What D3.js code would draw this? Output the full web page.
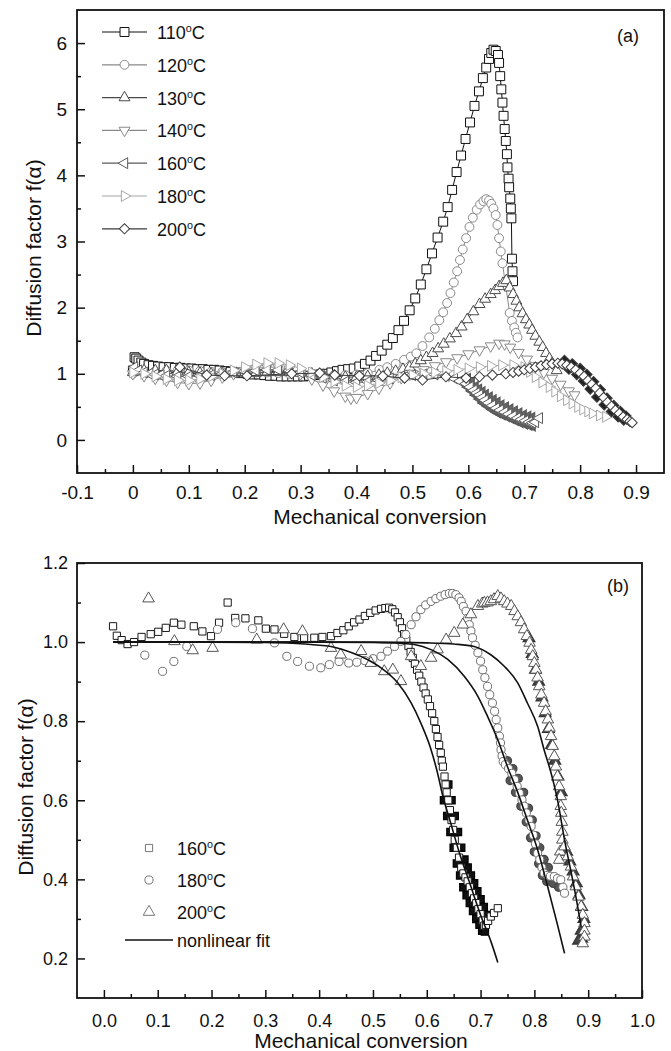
<!DOCTYPE html>
<html>
<head>
<meta charset="utf-8">
<script src="https://cdn.jsdelivr.net/npm/d3@7/dist/d3.min.js"></script>
<style>
  body { margin: 0; background: #fff; }
  text { font-family: "Liberation Sans", Arial, Helvetica, sans-serif; fill: #111; }
</style>
</head>
<body>
<svg id="chart" width="671" height="1051"></svg>
<script>
// ---------- panel (a): [mechanical conversion, diffusion factor] ----------
var tempsA = ["110", "120", "130", "140", "160", "180", "200"];

var a110 = [[0.000,1.05],[0.003,1.25],[0.006,1.23],[0.010,1.20],[0.015,1.17],[0.020,1.15],[0.028,1.13],[0.036,1.12],
  [0.045,1.11],[0.055,1.10],[0.065,1.10],[0.075,1.09],[0.085,1.09],[0.095,1.08],[0.105,1.08],[0.115,1.07],[0.125,1.07],
  [0.135,1.06],[0.145,1.06],[0.155,1.05],[0.165,1.04],[0.175,1.03],[0.185,1.02],[0.195,1.01],[0.205,1.00],[0.215,0.99],
  [0.225,0.99],[0.235,0.98],[0.245,0.97],[0.255,0.97],[0.265,0.96],[0.275,0.96],[0.285,0.96],[0.295,0.96],[0.305,0.96],
  [0.315,0.97],[0.325,0.98],[0.335,0.99],[0.345,1.00],[0.355,1.02],[0.365,1.04],[0.375,1.06],[0.385,1.07],[0.395,1.08],
  [0.405,1.11],[0.415,1.15],[0.425,1.20],[0.435,1.27],[0.445,1.35],[0.455,1.44],[0.465,1.54],[0.475,1.66],[0.485,1.80],
  [0.495,1.96],[0.505,2.14],[0.515,2.35],[0.525,2.58],[0.535,2.82],[0.545,3.06],[0.555,3.30],[0.563,3.52],[0.571,3.78],
  [0.579,4.05],[0.587,4.30],[0.595,4.55],[0.603,4.80],[0.611,5.05],[0.619,5.27],[0.626,5.47],[0.632,5.63],[0.637,5.76],
  [0.641,5.85],[0.645,5.90],[0.649,5.88],[0.653,5.82],[0.655,5.70],[0.657,5.50],[0.659,5.30],[0.661,5.10],[0.663,4.90],
  [0.665,4.70],[0.667,4.52],[0.669,4.32],[0.670,4.12],[0.672,3.95],[0.673,3.82],[0.675,3.65],[0.676,3.50],[0.677,3.35],
  [0.678,2.74],[0.679,2.55],[0.680,2.40]];

var a120 = [[0.000,1.00],[0.020,1.02],[0.040,1.04],[0.060,1.05],[0.080,1.05],[0.100,1.05],[0.120,1.04],[0.140,1.03],
  [0.160,1.03],[0.180,1.02],[0.200,1.02],[0.220,1.02],[0.240,1.02],[0.260,1.01],[0.280,1.00],[0.300,1.00],[0.320,0.99],
  [0.340,0.98],[0.360,0.98],[0.380,0.98],[0.400,0.99],[0.420,1.01],[0.441,1.06],[0.455,1.10],[0.470,1.15],[0.485,1.21],
  [0.497,1.26],[0.507,1.31],[0.518,1.42],[0.530,1.55],[0.540,1.68],[0.548,1.81],[0.555,1.93],[0.562,2.07],[0.568,2.22],
  [0.574,2.38],[0.580,2.55],[0.585,2.72],[0.590,2.88],[0.596,3.05],[0.602,3.22],[0.608,3.36],[0.615,3.48],[0.621,3.56],
  [0.627,3.61],[0.632,3.64],[0.637,3.62],[0.641,3.57],[0.645,3.50],[0.649,3.40],[0.652,3.25],[0.655,3.05],[0.658,2.85],
  [0.661,2.67],[0.674,1.92],[0.678,1.80],[0.682,1.70],[0.685,1.62],[0.688,1.55]];

var a130 = [[0.000,1.02],[0.020,1.05],[0.040,1.05],[0.060,1.05],[0.080,1.03],[0.100,1.02],[0.120,1.01],[0.140,1.00],
  [0.160,1.00],[0.180,1.00],[0.200,1.00],[0.220,1.01],[0.240,1.02],[0.260,1.02],[0.280,1.02],[0.300,1.01],[0.320,1.00],
  [0.340,0.98],[0.360,0.97],[0.380,0.95],[0.400,0.95],[0.420,0.96],[0.440,0.98],[0.455,1.01],[0.470,1.04],[0.483,1.07],
  [0.495,1.10],[0.505,1.15],[0.515,1.20],[0.525,1.25],[0.536,1.31],[0.546,1.38],[0.556,1.45],[0.567,1.53],[0.578,1.61],
  [0.588,1.71],[0.598,1.82],[0.609,1.94],[0.620,2.05],[0.630,2.13],[0.640,2.20],[0.648,2.26],[0.655,2.32],[0.662,2.37],
  [0.668,2.41],[0.674,2.30],[0.680,2.20],[0.686,2.10],[0.691,2.00],[0.697,1.91],[0.703,1.82],[0.709,1.74],[0.714,1.66],
  [0.720,1.57],[0.727,1.48],[0.733,1.40],[0.739,1.31],[0.745,1.23],[0.750,1.16],[0.758,1.05]];

var a140 = [[0.000,1.00],[0.020,0.97],[0.040,0.93],[0.060,0.90],[0.080,0.87],[0.100,0.85],[0.120,0.86],[0.140,0.90],
  [0.160,0.95],[0.180,1.00],[0.200,1.05],[0.220,1.08],[0.240,1.10],[0.260,1.10],[0.280,1.07],[0.300,1.00],[0.320,0.92],
  [0.340,0.83],[0.360,0.74],[0.380,0.66],[0.390,0.63],[0.400,0.64],[0.420,0.70],[0.440,0.78],[0.460,0.86],[0.480,0.94],
  [0.500,1.00],[0.520,1.06],[0.540,1.12],[0.560,1.18],[0.580,1.24],[0.600,1.30],[0.620,1.36],[0.640,1.42],[0.655,1.46],
  [0.665,1.45],[0.675,1.40],[0.690,1.32],[0.705,1.22],[0.720,1.12],[0.735,1.02],[0.750,0.93],[0.765,0.84],[0.780,0.74],
  [0.790,0.68]];

var a160 = [[0.003,1.10],[0.010,1.05],[0.020,1.02],[0.030,1.00],[0.040,0.99],[0.050,0.98],[0.060,0.97],[0.080,0.96],
  [0.100,0.96],[0.120,0.97],[0.140,0.98],[0.160,1.00],[0.180,1.02],[0.200,1.04],[0.220,1.05],[0.240,1.06],[0.260,1.06],
  [0.280,1.05],[0.300,1.02],[0.320,0.98],[0.340,0.94],[0.360,0.90],[0.380,0.88],[0.400,0.87],[0.420,0.88],[0.440,0.90],
  [0.460,0.93],[0.480,0.96],[0.500,0.98],[0.520,0.99],[0.540,0.99],[0.560,0.97],[0.575,0.93],[0.585,0.89],[0.596,0.85],
  [0.603,0.80],[0.610,0.75],[0.615,0.71],[0.620,0.68],[0.625,0.64],[0.630,0.60],[0.636,0.56],[0.643,0.52],[0.650,0.48],
  [0.657,0.45],[0.665,0.42],[0.672,0.39],[0.680,0.36],[0.688,0.33],[0.695,0.31],[0.702,0.29],[0.709,0.27],[0.715,0.26],
  [0.720,0.27],[0.727,0.33]];
// outer edges of the dense 160 band
var a160band = [[0.598,0.92],[0.605,0.86],[0.612,0.80],[0.618,0.76],[0.624,0.72],[0.630,0.68],[0.637,0.64],[0.644,0.60],
  [0.651,0.56],[0.658,0.52],[0.666,0.49],[0.674,0.46],[0.682,0.43],[0.690,0.40],[0.698,0.37],[0.706,0.35],[0.713,0.33],
  [0.600,0.80],[0.607,0.74],[0.614,0.68],[0.621,0.62],[0.628,0.56],[0.636,0.51],[0.644,0.46],[0.652,0.42],[0.660,0.39],
  [0.668,0.36],[0.676,0.33],[0.684,0.30],[0.692,0.27],[0.700,0.25],[0.708,0.23],[0.714,0.22]];

var a180 = [[0.000,1.02],[0.020,1.00],[0.040,0.96],[0.060,0.92],[0.080,0.90],[0.100,0.90],[0.120,0.92],[0.140,0.96],
  [0.160,1.00],[0.180,1.05],[0.200,1.10],[0.220,1.14],[0.240,1.16],[0.260,1.16],[0.280,1.13],[0.300,1.08],[0.320,1.02],
  [0.340,0.95],[0.360,0.88],[0.380,0.82],[0.400,0.80],[0.420,0.82],[0.440,0.86],[0.460,0.90],[0.480,0.95],[0.500,0.98],
  [0.520,1.00],[0.540,1.02],[0.560,1.04],[0.580,1.06],[0.600,1.08],[0.620,1.10],[0.640,1.12],[0.660,1.13],[0.680,1.13],
  [0.700,1.10],[0.710,1.03],[0.720,0.95],[0.732,0.87],[0.745,0.80],[0.755,0.73],[0.765,0.66],[0.776,0.60],[0.786,0.55],
  [0.796,0.50],[0.805,0.46],[0.814,0.43],[0.822,0.40],[0.835,0.37],[0.846,0.35]];

var a200 = [[0.084,1.10],[0.132,0.98],[0.164,0.97],[0.204,0.97],[0.284,1.00],[0.334,1.01],[0.361,0.98],[0.405,0.97],
  [0.447,0.965],[0.486,0.935],[0.518,0.905],[0.560,0.955],[0.596,0.935],[0.620,0.955],[0.643,0.98],[0.667,1.00],
  [0.680,1.02],[0.690,1.04],[0.700,1.06],[0.710,1.08],[0.720,1.10],[0.730,1.12],[0.740,1.14],[0.750,1.15],[0.760,1.16],
  [0.768,1.15],[0.776,1.13],[0.784,1.10],[0.792,1.06],[0.800,1.01],[0.807,0.96],[0.814,0.90],[0.821,0.84],[0.828,0.78],
  [0.835,0.71],[0.842,0.64],[0.849,0.57],[0.856,0.51],[0.863,0.45],[0.870,0.40],[0.877,0.35],[0.884,0.31],[0.889,0.28],
  [0.893,0.26]];
// outer edges of the dense black 200 band
var a200band = [[0.772,1.20],[0.786,1.15],[0.800,1.08],[0.812,0.99],[0.824,0.88],[0.836,0.76],[0.848,0.63],[0.860,0.52],
  [0.872,0.43],[0.882,0.36],[0.780,1.07],[0.794,0.99],[0.806,0.89],[0.818,0.77],[0.830,0.65],[0.843,0.53],[0.856,0.43],
  [0.868,0.35],[0.878,0.30]];

var xTicksA = [-0.1, 0.0, 0.1, 0.2, 0.3, 0.4, 0.5, 0.6, 0.7, 0.8, 0.9];
var xMinorA = [-0.05, 0.05, 0.15, 0.25, 0.35, 0.45, 0.55, 0.65, 0.75, 0.85];
var yTicksA = [0, 1, 2, 3, 4, 5, 6];
var yMinorA = [0.5, 1.5, 2.5, 3.5, 4.5, 5.5];

// ---------- panel (b) ----------
var tempsB = ["160", "180", "200"];

var b160 = [[0.017,1.040],[0.024,1.016],[0.033,1.005],[0.044,0.995],[0.056,1.000],[0.070,1.013],[0.087,1.020],
  [0.101,1.026],[0.115,1.036],[0.130,1.049],[0.144,1.044],[0.167,1.040],[0.183,1.027],[0.199,1.015],[0.214,1.049],
  [0.230,1.100],[0.244,1.061],[0.263,1.060],[0.287,1.055],[0.301,1.034],[0.317,1.032],[0.335,1.021],[0.354,1.013],
  [0.372,1.011],[0.391,1.011],[0.406,1.013],[0.422,1.015],[0.434,1.023],[0.445,1.030],[0.455,1.040],[0.465,1.050],
  [0.475,1.057],[0.485,1.066],[0.495,1.074],[0.505,1.080],[0.515,1.084],[0.523,1.086],[0.530,1.087],[0.536,1.083],
  [0.541,1.075],[0.546,1.063],[0.550,1.050],[0.554,1.035],[0.558,1.020],[0.562,1.005],[0.566,0.990],[0.570,0.975],
  [0.574,0.960],[0.578,0.945],[0.582,0.930],[0.586,0.915],[0.590,0.900],[0.594,0.885],[0.598,0.870],[0.602,0.855],
  [0.606,0.838],[0.610,0.820],[0.614,0.800],[0.617,0.780],[0.620,0.760],[0.623,0.740],[0.626,0.720],[0.628,0.700],
  [0.630,0.685],[0.633,0.660],[0.635,0.640],[0.637,0.620],[0.640,0.600],[0.643,0.575],[0.646,0.550],[0.649,0.525],
  [0.652,0.500],[0.656,0.480],[0.660,0.455],[0.664,0.430],[0.668,0.415],[0.672,0.405],[0.676,0.395],[0.680,0.380],
  [0.684,0.365],[0.688,0.352],[0.692,0.340],[0.696,0.325],[0.700,0.312],[0.704,0.296],[0.707,0.283],[0.710,0.285],
  [0.714,0.295],[0.719,0.306],[0.725,0.315],[0.732,0.327]];
var b160band = [[0.640,0.640],[0.646,0.600],[0.652,0.560],[0.658,0.520],[0.664,0.480],[0.670,0.450],[0.676,0.430],
  [0.682,0.410],[0.688,0.390],[0.694,0.370],[0.700,0.350],[0.706,0.330],[0.712,0.310],[0.632,0.600],[0.638,0.560],
  [0.644,0.520],[0.650,0.480],[0.656,0.440],[0.662,0.410],[0.668,0.380],[0.674,0.360],[0.680,0.340],[0.686,0.320],
  [0.692,0.300],[0.698,0.285],[0.703,0.270],[0.708,0.268]];

var b180 = [[0.076,0.967],[0.109,0.926],[0.130,0.951],[0.154,0.989],[0.211,1.032],[0.245,1.049],[0.276,1.034],
  [0.317,0.998],[0.340,0.964],[0.360,0.951],[0.382,0.939],[0.403,0.935],[0.419,0.943],[0.437,0.951],[0.455,0.947],
  [0.470,0.949],[0.485,0.953],[0.500,0.958],[0.515,0.964],[0.527,0.977],[0.540,0.989],[0.552,1.002],[0.561,1.019],
  [0.571,1.044],[0.580,1.064],[0.589,1.082],[0.598,1.094],[0.608,1.103],[0.617,1.110],[0.626,1.116],[0.634,1.120],
  [0.642,1.123],[0.648,1.123],[0.654,1.120],[0.660,1.112],[0.664,1.103],[0.668,1.090],[0.673,1.078],[0.676,1.060],
  [0.679,1.044],[0.682,1.028],[0.685,1.011],[0.690,0.992],[0.695,0.973],[0.700,0.952],[0.704,0.930],[0.708,0.910],
  [0.713,0.888],[0.717,0.867],[0.722,0.846],[0.726,0.825],[0.729,0.804],[0.732,0.783],[0.735,0.762],[0.737,0.745],
  [0.738,0.728],[0.740,0.712],[0.742,0.698],[0.746,0.690],[0.752,0.680],[0.758,0.668],[0.763,0.652],[0.768,0.635],
  [0.772,0.618],[0.777,0.601],[0.781,0.585],[0.785,0.568],[0.790,0.550],[0.794,0.534],[0.798,0.512],[0.802,0.490],
  [0.806,0.466],[0.810,0.450],[0.814,0.430],[0.818,0.416],[0.824,0.410],[0.830,0.408],[0.837,0.407],[0.843,0.402],
  [0.849,0.399],[0.853,0.380],[0.856,0.365]];
var b180band = [[0.750,0.700],[0.760,0.680],[0.770,0.655],[0.780,0.620],[0.789,0.580],[0.796,0.550],[0.803,0.510],
  [0.810,0.480],[0.818,0.450],[0.826,0.430],[0.755,0.650],[0.765,0.620],[0.775,0.585],[0.785,0.545],[0.793,0.505],
  [0.800,0.470],[0.808,0.440],[0.815,0.410],[0.823,0.395],[0.835,0.390],[0.845,0.380]];

var b200 = [[0.083,1.110],[0.131,1.002],[0.165,0.979],[0.202,0.985],[0.284,1.006],[0.334,1.032],[0.369,1.027],
  [0.422,0.985],[0.440,0.968],[0.478,0.977],[0.496,0.947],[0.521,0.926],[0.537,0.930],[0.552,0.901],[0.571,0.964],
  [0.589,0.939],[0.608,0.960],[0.620,0.981],[0.636,1.006],[0.651,1.023],[0.667,1.044],[0.682,1.070],[0.695,1.091],
  [0.703,1.097],[0.707,1.099],[0.713,1.100],[0.719,1.103],[0.725,1.108],[0.732,1.116],[0.738,1.110],[0.744,1.103],
  [0.750,1.097],[0.757,1.091],[0.763,1.078],[0.769,1.065],[0.775,1.050],[0.781,1.032],[0.786,1.015],[0.791,0.998],
  [0.794,0.980],[0.797,0.964],[0.800,0.947],[0.803,0.930],[0.806,0.910],[0.809,0.888],[0.813,0.867],[0.818,0.846],
  [0.821,0.825],[0.825,0.804],[0.828,0.783],[0.831,0.762],[0.834,0.737],[0.837,0.711],[0.840,0.685],[0.843,0.660],
  [0.846,0.635],[0.849,0.610],[0.849,0.585],[0.850,0.568],[0.851,0.545],[0.852,0.520],[0.852,0.500],[0.848,0.470],
  [0.846,0.449],[0.856,0.483],[0.862,0.458],[0.868,0.432],[0.872,0.407],[0.877,0.382],[0.882,0.356],[0.887,0.331],
  [0.890,0.310],[0.893,0.289],[0.893,0.270],[0.893,0.255],[0.890,0.238]];
var b200band = [[0.790,1.010],[0.796,0.970],[0.802,0.930],[0.808,0.900],[0.814,0.860],[0.820,0.820],[0.826,0.780],
  [0.832,0.740],[0.838,0.700],[0.844,0.660],[0.850,0.620],[0.860,0.470],[0.866,0.445],[0.872,0.420],[0.878,0.390],
  [0.883,0.360],[0.888,0.330],[0.892,0.300],[0.887,0.270],[0.888,0.250],[0.882,0.245]];

// nonlinear fits
var fit160 = [[0.017,1.000],[0.100,1.000],[0.200,1.000],[0.300,0.999],[0.350,0.997],[0.400,0.992],[0.422,0.989],
  [0.453,0.977],[0.484,0.960],[0.515,0.935],[0.546,0.897],[0.571,0.846],[0.589,0.795],[0.608,0.728],[0.620,0.669],
  [0.630,0.610],[0.645,0.540],[0.660,0.470],[0.680,0.390],[0.700,0.310],[0.720,0.240],[0.732,0.190]];
var fit180 = [[0.017,1.000],[0.200,1.000],[0.400,1.000],[0.500,0.999],[0.550,0.997],[0.577,0.994],[0.608,0.981],
  [0.639,0.956],[0.670,0.913],[0.695,0.863],[0.713,0.812],[0.732,0.753],[0.750,0.685],[0.769,0.620],[0.787,0.550],
  [0.806,0.475],[0.825,0.380],[0.843,0.285],[0.856,0.213]];
var fit200 = [[0.017,1.000],[0.200,1.000],[0.400,1.000],[0.500,1.000],[0.600,0.998],[0.650,0.995],[0.688,0.989],
  [0.719,0.968],[0.744,0.939],[0.769,0.897],[0.787,0.846],[0.806,0.787],[0.818,0.728],[0.831,0.669],[0.843,0.601],
  [0.856,0.500],[0.868,0.420],[0.878,0.350],[0.887,0.280]];

var xTicksB = [0.0, 0.1, 0.2, 0.3, 0.4, 0.5, 0.6, 0.7, 0.8, 0.9, 1.0];
var xMinorB = [0.05, 0.15, 0.25, 0.35, 0.45, 0.55, 0.65, 0.75, 0.85, 0.95];
var yTicksB = [0.2, 0.4, 0.6, 0.8, 1.0, 1.2];
var yMinorB = [0.3, 0.5, 0.7, 0.9, 1.1];

var svg = d3.select("#chart");

// marker shapes: symbol + rotation
function shape(kind, size) {
  var t = d3.symbolSquare, r = 0;
  if (kind == "circle") t = d3.symbolCircle;
  if (kind == "up") t = d3.symbolTriangle;
  if (kind == "down") { t = d3.symbolTriangle; r = 180; }
  if (kind == "left") { t = d3.symbolTriangle; r = -90; }
  if (kind == "right") { t = d3.symbolTriangle; r = 90; }
  if (kind == "diamond") { r = 45; }
  return { d: d3.symbol().type(t).size(size)(), rot: r };
}

// fill is white for normal markers, dark for the overlapping dense tails
function drawPoints(g, data, x, y, kind, size, color, sw, fill) {
  var s = shape(kind, size);
  g.append("g").selectAll("path")
    .data(data)
    .enter().append("path")
    .attr("d", s.d)
    .attr("transform", function (d) { return "translate(" + x(d[0]) + "," + y(d[1]) + ") rotate(" + s.rot + ")"; })
    .attr("fill", fill || "#fff")
    .attr("stroke", color)
    .attr("stroke-width", sw || 1);
}

// axes with inward ticks + frame
function drawAxes(x, y, xt, xm, yt, ym, fs, xpad, ypad, fmt) {
  var x0 = x.range()[0], x1 = x.range()[1], y0 = y.range()[0], y1 = y.range()[1];
  var gx = svg.append("g").attr("transform", "translate(0," + y0 + ")")
    .call(d3.axisBottom(x).tickValues(xt).tickSize(-8).tickPadding(xpad).tickFormat(fmt));
  svg.append("g").attr("transform", "translate(0," + y0 + ")")
    .call(d3.axisBottom(x).tickValues(xm).tickSize(-4).tickFormat(""));
  var gy = svg.append("g").attr("transform", "translate(" + x0 + ",0)")
    .call(d3.axisLeft(y).tickValues(yt).tickSize(-8).tickPadding(ypad).tickFormat(fmt));
  svg.append("g").attr("transform", "translate(" + x0 + ",0)")
    .call(d3.axisLeft(y).tickValues(ym).tickSize(-4).tickFormat(""));
  svg.selectAll(".domain").remove();
  svg.selectAll(".tick line").attr("stroke", "#111").attr("stroke-width", 1.5);
  gx.selectAll("text").attr("font-size", fs).attr("font-family", null).style("fill", "#111");
  gy.selectAll("text").attr("font-size", fs).attr("font-family", null).style("fill", "#111");
  svg.append("rect").attr("x", x0).attr("y", y1).attr("width", x1 - x0).attr("height", y0 - y1)
    .attr("fill", "none").attr("stroke", "#111").attr("stroke-width", 1.8);
}

function tempLabel(g, tx, ty, t, fs) {
  var txt = g.append("text").attr("x", tx).attr("y", ty).attr("font-size", fs);
  txt.append("tspan").text(t);
  txt.append("tspan").attr("dy", -7).attr("font-size", fs * 0.6).text("o");
  txt.append("tspan").attr("dy", 7).text("C");
}

// ================= (a) =================
var xA = d3.scaleLinear().domain([-0.1, 0.95]).range([77, 664]);
var yA = d3.scaleLinear().domain([-0.5, 6.5]).range([473, 10]);

var seriesA = [
  { t: tempsA[0], data: a110, kind: "square",  color: "#111" },
  { t: tempsA[1], data: a120, kind: "circle",  color: "#8a8a8a" },
  { t: tempsA[2], data: a130, kind: "up",      color: "#4a4a4a" },
  { t: tempsA[3], data: a140, kind: "down",    color: "#8a8a8a" },
  { t: tempsA[4], data: a160, kind: "left",    color: "#5a5a5a", band: a160band, bandFill: "#666" },
  { t: tempsA[5], data: a180, kind: "right",   color: "#a8a8a8" },
  { t: tempsA[6], data: a200, kind: "diamond", color: "#3a3a3a", band: a200band, bandFill: "#222" }
];
var sizeA = { square: 80, circle: 62, up: 52, down: 52, left: 52, right: 52, diamond: 52 };

var lineA = d3.line().x(function (d) { return xA(d[0]); }).y(function (d) { return yA(d[1]); });
var plotA = svg.append("g");
seriesA.forEach(function (s) {
  plotA.append("path").datum(s.data).attr("d", lineA)
    .attr("fill", "none").attr("stroke", s.color).attr("stroke-width", 1);
  if (s.band) drawPoints(plotA, s.band, xA, yA, s.kind, sizeA[s.kind], s.color, 1.2, s.bandFill);
  drawPoints(plotA, s.data, xA, yA, s.kind, sizeA[s.kind], s.color);
});

drawAxes(xA, yA, xTicksA, xMinorA, yTicksA, yMinorA, 19, 13, 10,
  function (d) { return Number.isInteger(d) ? String(d) : d.toFixed(1); });

// legend (a)
var legA = svg.append("g");
seriesA.forEach(function (s, i) {
  var cy = 32 + i * 32.8;
  legA.append("line").attr("x1", 102).attr("x2", 147).attr("y1", cy).attr("y2", cy)
    .attr("stroke", s.color).attr("stroke-width", 1.2);
  var sh = shape(s.kind, sizeA[s.kind]);
  legA.append("path").attr("d", sh.d)
    .attr("transform", "translate(124.5," + cy + ") rotate(" + sh.rot + ")")
    .attr("fill", "#fff").attr("stroke", s.color);
  tempLabel(legA, 157, cy + 7, s.t, 18);
});

svg.append("text").attr("x", 617).attr("y", 42).attr("font-size", 18).text("(a)");
svg.append("text").attr("x", 380).attr("y", 524).attr("font-size", 21)
  .attr("text-anchor", "middle").text("Mechanical conversion");
svg.append("text").attr("transform", "translate(41,248) rotate(-90)").attr("font-size", 21)
  .attr("text-anchor", "middle").text("Diffusion factor f(\u03b1)");

// ================= (b) =================
var xB = d3.scaleLinear().domain([-0.05, 1.0]).range([77, 642]);
var yB = d3.scaleLinear().domain([0.1, 1.2]).range([998, 563]);

var seriesB = [
  { t: tempsB[0], data: b160, kind: "square", size: 52, color: "#1a1a1a", band: b160band, bandColor: "#000", bandFill: "#111" },
  { t: tempsB[1], data: b180, kind: "circle", size: 52, color: "#6e6e6e", band: b180band, bandColor: "#444", bandFill: "#555" },
  { t: tempsB[2], data: b200, kind: "up",     size: 58, color: "#555",    band: b200band, bandColor: "#333", bandFill: "#444" }
];

var plotB = svg.append("g");
seriesB.forEach(function (s) {
  drawPoints(plotB, s.band, xB, yB, s.kind, s.size, s.bandColor, 1.3, s.bandFill);
  drawPoints(plotB, s.data, xB, yB, s.kind, s.size, s.color);
});

var lineB = d3.line().curve(d3.curveMonotoneX)
  .x(function (d) { return xB(d[0]); }).y(function (d) { return yB(d[1]); });
[fit160, fit180, fit200].forEach(function (f) {
  plotB.append("path").datum(f).attr("d", lineB)
    .attr("fill", "none").attr("stroke", "#111").attr("stroke-width", 1.6);
});

drawAxes(xB, yB, xTicksB, xMinorB, yTicksB, yMinorB, 18, 16, 9,
  function (d) { return d.toFixed(1); });

// legend (b)
var legB = svg.append("g");
seriesB.forEach(function (s, i) {
  var cy = 848 + i * 32;
  var sh = shape(s.kind, s.size);
  legB.append("path").attr("d", sh.d)
    .attr("transform", "translate(149," + cy + ") rotate(" + sh.rot + ")")
    .attr("fill", "#fff").attr("stroke", "#777");
  tempLabel(legB, 177, cy + 7, s.t, 18);
});
legB.append("line").attr("x1", 125).attr("x2", 173).attr("y1", 940).attr("y2", 940)
  .attr("stroke", "#111").attr("stroke-width", 1.6);
legB.append("text").attr("x", 177).attr("y", 947).attr("font-size", 18).text("nonlinear fit");

svg.append("text").attr("x", 607).attr("y", 592).attr("font-size", 18).text("(b)");
svg.append("text").attr("x", 361).attr("y", 1048).attr("font-size", 21)
  .attr("text-anchor", "middle").text("Mechanical conversion");
svg.append("text").attr("transform", "translate(33,787) rotate(-90)").attr("font-size", 21)
  .attr("text-anchor", "middle").text("Diffusion factor f(\u03b1)");
</script>
</body>
</html>
